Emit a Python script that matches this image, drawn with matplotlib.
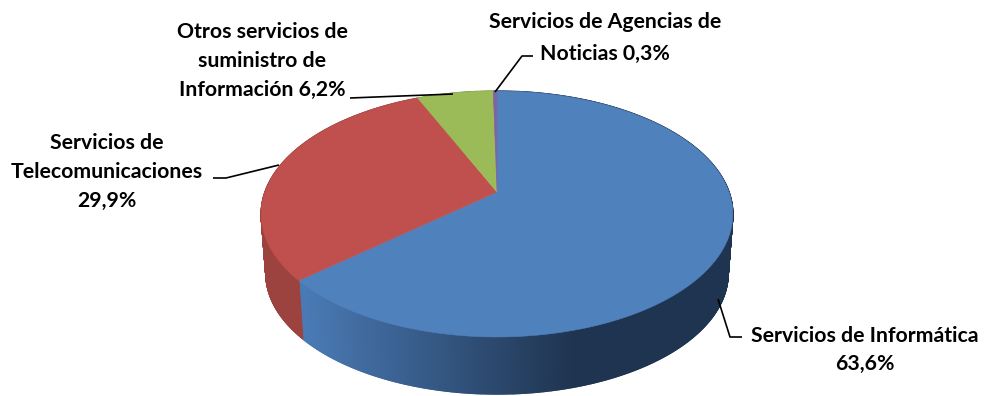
import numpy as np
import matplotlib
matplotlib.use("Agg")
import matplotlib.pyplot as plt
from matplotlib.colors import to_rgb

# values, clockwise from 12 o'clock
sectores = ["Servicios de Informática", "Servicios de Telecomunicaciones",
            "Otros servicios de suministro de Información", "Servicios de Agencias de Noticias"]
valores = [63.6, 29.9, 6.2, 0.3]
colores = ["#4f81bd", "#c0504d", "#9bbb59", "#8064a2"]
lados = ["#1f3450", "#9c4340", "#7c9a45", "#66508a"]

etiquetas = ["Servicios de Informática\n63,6%",
             "Servicios de\nTelecomunicaciones\n29,9%",
             "Otros servicios de\nsuministro de\nInformación 6,2%",
             "Servicios de Agencias de\nNoticias 0,3%"]
pos_etiquetas = [(865, 350), (107, 172), (262, 61), (605, 38)]
interlineado = [1.55, 1.55, 1.55, 1.78]
guias = [[(718, 299), (730, 337), (742, 337)],
         [(213, 178), (226, 178), (279, 165)],
         [(350, 98), (453, 94)],
         [(495, 92), (522, 56), (533, 56)]]

# pie projection, in pixels
cx, cy = 497, 192
a, c, d = 119, 0.179, 232
prof, esc = 60, 0.98


def proyecta(ang, escala=1.0, dy=0):
    u, v = np.sin(ang), np.cos(ang)
    den = 1 + c * v
    return cx + escala * d * u / den, cy + dy - escala * a * v / den


fig = plt.figure(figsize=(9.84, 3.96), dpi=100)
ax = fig.add_axes([0, 0, 1, 1])
ax.set_xlim(0, 984)
ax.set_ylim(396, 0)
ax.axis("off")

limites = np.radians(np.cumsum([0] + valores) * 3.6)

# side wall
claro = np.array(to_rgb("#4a7ab5"))
oscuro = np.array(to_rgb(lados[0]))
for i in range(len(valores)):
    n = max(2, int(np.degrees(limites[i + 1] - limites[i]) * 4))
    angs = np.linspace(limites[i], limites[i + 1], n + 1)
    for a0, a1 in zip(angs[:-1], angs[1:]):
        x0, y0 = proyecta(a0)
        x1, y1 = proyecta(a1)
        x2, y2 = proyecta(a1, esc, prof)
        x3, y3 = proyecta(a0, esc, prof)
        col = lados[i]
        if i == 0:
            t = np.clip(((x0 + x1) / 2 - 303) / 270, 0, 1)
            col = tuple(claro + (oscuro - claro) * t)
        ax.fill([x0, x1, x2, x3], [y0, y1, y2, y3], color=col, lw=1.0, zorder=2)

# top face
for i in range(len(valores)):
    angs = np.linspace(limites[i], limites[i + 1], 300)
    x, y = proyecta(angs)
    ax.fill(np.r_[cx, x], np.r_[cy, y], color=colores[i], lw=0.4, zorder=3)

for g in guias:
    xs, ys = zip(*g)
    ax.plot(xs, ys, color="black", lw=1.2, zorder=4, solid_capstyle="butt")

for txt, (x, y), ls in zip(etiquetas, pos_etiquetas, interlineado):
    ax.text(x, y, txt, ha="center", va="center", family="Lato", weight="bold",
            fontsize=15.3, color="black", linespacing=ls, zorder=5)

plt.savefig("out.png", dpi=100)
